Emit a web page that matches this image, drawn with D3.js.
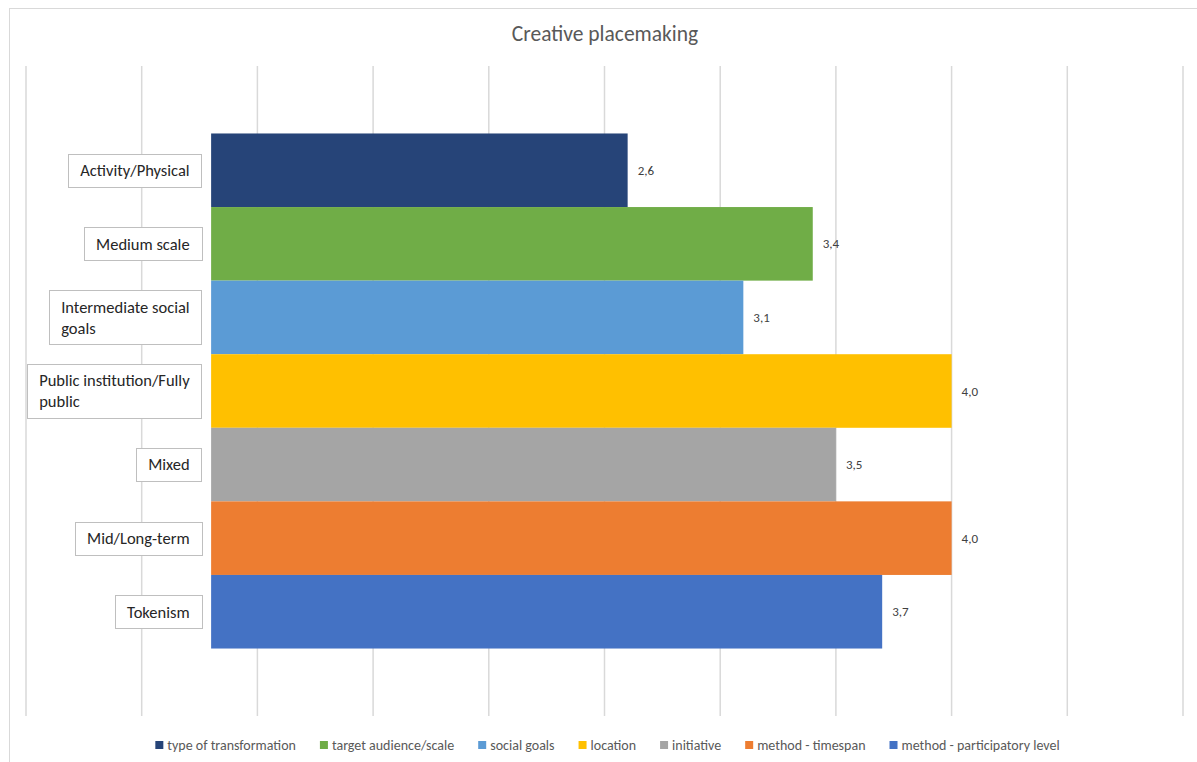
<!DOCTYPE html>
<html>
<head>
<meta charset="utf-8">
<script src="https://cdn.jsdelivr.net/npm/d3@7/dist/d3.min.js"></script>
<style>
  html, body { margin: 0; padding: 0; background: #fff; }
  svg { display: block; font-family: Calibri, Carlito, Lato, "Open Sans", sans-serif; }
</style>
</head>
<body>
<svg id="chart" width="1197" height="762"></svg>
<script>
// Series (one bar each), top to bottom
const seriesNames = [
  "type of transformation",
  "target audience/scale",
  "social goals",
  "location",
  "initiative",
  "method - timespan",
  "method - participatory level"
];
const seriesValues = [2.6, 3.4, 3.1, 4.0, 3.5, 4.0, 3.7];
const categoryLabels = [
  "Activity/Physical",
  "Medium scale",
  "Intermediate social\ngoals",
  "Public institution/Fully\npublic",
  "Mixed",
  "Mid/Long-term",
  "Tokenism"
];
const seriesColors = ["#264478", "#70AD47", "#5B9BD5", "#FFC000", "#A5A5A5", "#ED7D31", "#4472C4"];
// Bars start after a blank stacked segment that leaves room for the labels
const blankSegment = 0.8;
const xTicks = [0, 0.5, 1, 1.5, 2, 2.5, 3, 3.5, 4, 4.5, 5];
const chartTitle = "Creative placemaking";

const svg = d3.select("#chart");

// Chart area frame
svg.append("rect")
  .attr("x", 9.5).attr("y", 8.5)
  .attr("width", 1200).attr("height", 760)
  .attr("fill", "#fff").attr("stroke", "#d9d9d9").attr("stroke-width", 1);

const plot = { left: 26, right: 1183, top: 66, bottom: 716 };

const x = d3.scaleLinear().domain([0, 5]).range([plot.left, plot.right]);
const y = d3.scaleBand().domain(seriesNames)
  .range([plot.top, plot.bottom])
  .paddingInner(0).paddingOuter(0.917);

// Vertical gridlines
svg.append("g")
  .selectAll("line")
  .data(xTicks)
  .join("line")
  .attr("x1", d => x(d)).attr("x2", d => x(d))
  .attr("y1", plot.top).attr("y2", plot.bottom)
  .attr("stroke", "#d9d9d9").attr("stroke-width", 1.5);

// Title
svg.append("text")
  .attr("x", 605).attr("y", 41)
  .attr("text-anchor", "middle")
  .attr("font-size", 21.5)
  .attr("fill", "#595959")
  .text(chartTitle);

const rows = seriesNames.map((name, i) => ({
  name, value: seriesValues[i], label: categoryLabels[i], color: seriesColors[i]
}));

// Bars
svg.append("g")
  .selectAll("rect")
  .data(rows)
  .join("rect")
  .attr("x", x(blankSegment))
  .attr("y", d => y(d.name))
  .attr("width", d => x(d.value) - x(blankSegment))
  .attr("height", y.bandwidth())
  .attr("fill", d => d.color);

// Value labels
svg.append("g")
  .selectAll("text")
  .data(rows)
  .join("text")
  .attr("x", d => x(d.value) + 10)
  .attr("y", d => y(d.name) + y.bandwidth() / 2)
  .attr("dy", "0.35em")
  .attr("font-size", 13)
  .attr("fill", "#404040")
  .text(d => d3.format(".1f")(d.value).replace(".", ","));

// Category labels in boxes, right-aligned next to the bars
const labelG = svg.append("g");
rows.forEach(d => {
  const lines = d.label.split("\n");
  const g = labelG.append("g");
  const lineH = 21;
  const cy = y(d.name) + y.bandwidth() / 2;
  const rightEdge = x(blankSegment) - 9.5;
  const box = g.append("rect").attr("fill", "#fff").attr("stroke", "#bfbfbf").attr("stroke-width", 1);
  const t = g.append("text").attr("font-size", 16.5).attr("fill", "#262626");
  lines.forEach((ln, k) => {
    t.append("tspan")
      .attr("y", cy + (k - (lines.length - 1) / 2) * lineH)
      .attr("dy", "0.35em")
      .text(ln);
  });
  let maxW = 0;
  t.selectAll("tspan").each(function() { maxW = Math.max(maxW, this.getComputedTextLength()); });
  const padL = 12, padR = 12;
  const boxW = maxW + padL + padR;
  const boxH = lines.length * lineH + 12;
  const left = rightEdge - boxW;
  t.selectAll("tspan").attr("x", left + padL);
  box.attr("x", Math.round(left) + 0.5)
    .attr("y", Math.round(cy - boxH / 2) + 0.5)
    .attr("width", Math.round(boxW))
    .attr("height", Math.round(boxH));
});

// Legend
const legend = svg.append("g");
const gap = 24;
let cursor = 0;
rows.forEach(d => {
  const g = legend.append("g");
  g.append("rect").attr("x", 0).attr("y", -4).attr("width", 8).attr("height", 8).attr("fill", d.color);
  const t = g.append("text").attr("x", 12).attr("y", 0).attr("dy", "0.35em")
    .attr("font-size", 14).attr("fill", "#595959").text(d.name);
  const w = 12 + t.node().getComputedTextLength();
  g.attr("transform", `translate(${cursor},0)`);
  cursor += w + gap;
});
const legendW = cursor - gap;
legend.attr("transform", `translate(${607.5 - legendW / 2},745)`);
</script>
</body>
</html>
